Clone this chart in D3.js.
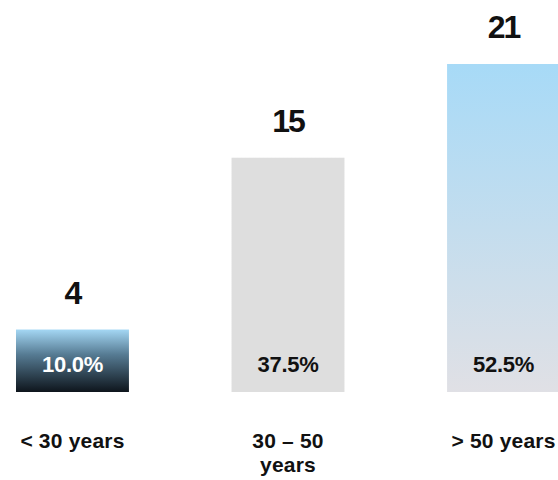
<!DOCTYPE html>
<html>
<head>
<meta charset="utf-8">
<script src="https://cdn.jsdelivr.net/npm/d3@7"></script>
<style>
  html, body { margin: 0; padding: 0; background: #fff; }
  svg { display: block; }
  text { font-family: "Liberation Sans", Arial, Helvetica, sans-serif; font-weight: bold; fill: #111; }
</style>
</head>
<body>
<svg id="chart" width="558" height="480"></svg>
<script>
// Employees by age group: head count and share of total
const categories = ["< 30 years", "30 – 50 years", "> 50 years"];
const counts = [4, 15, 21];
const shares = ["10.0%", "37.5%", "52.5%"];

const width = 558, height = 480;
const baseline = 392;

const svg = d3.select("#chart");

const x = d3.scaleBand()
  .domain(categories)
  .range([16, 560])
  .paddingInner(0.476)
  .paddingOuter(0);

const y = d3.scaleLinear()
  .domain([0, d3.max(counts)])
  .range([baseline, 64]);

// Fills: dark blue ramp for the youngest group, flat grey, light blue ramp
const defs = svg.append("defs");
const ramps = [
  { id: "fill-0", stops: [["0%", "#a4d7f4"], ["40%", "#567b93"], ["100%", "#0e151c"]] },
  { id: "fill-1", stops: [["0%", "#dedede"], ["100%", "#dedede"]] },
  { id: "fill-2", stops: [["0%", "#a7daf7"], ["100%", "#e0e0e5"]] }
];
ramps.forEach(r => {
  const g = defs.append("linearGradient")
    .attr("id", r.id)
    .attr("x1", 0).attr("y1", 0).attr("x2", 0).attr("y2", 1);
  r.stops.forEach(([o, c]) => g.append("stop").attr("offset", o).attr("stop-color", c));
});

const data = categories.map((c, i) => ({ cat: c, count: counts[i], share: shares[i], i }));

// Bars
svg.selectAll("rect.bar")
  .data(data)
  .join("rect")
  .attr("class", "bar")
  .attr("x", d => x(d.cat))
  .attr("y", d => y(d.count))
  .attr("width", x.bandwidth())
  .attr("height", d => baseline - y(d.count))
  .attr("fill", d => `url(#fill-${d.i})`);

// Head count above each bar
svg.selectAll("text.count")
  .data(data)
  .join("text")
  .attr("class", "count")
  .attr("x", d => x(d.cat) + x.bandwidth() / 2)
  .attr("y", d => y(d.count) - 26)
  .attr("text-anchor", "middle")
  .style("font-size", "32px")
  .style("letter-spacing", "-2px")
  .text(d => d.count);

// Share inside each bar
svg.selectAll("text.share")
  .data(data)
  .join("text")
  .attr("class", "share")
  .attr("x", d => x(d.cat) + x.bandwidth() / 2)
  .attr("y", 372)
  .attr("text-anchor", "middle")
  .style("font-size", "22px")
  .style("letter-spacing", "-0.3px")
  .style("fill", d => d.i === 0 ? "#ffffff" : "#111111")
  .text(d => d.share);

// Category labels, wrapped to fit under the bar
function wrap(sel, maxWidth, lineHeight) {
  sel.each(function () {
    const t = d3.select(this);
    const words = t.text().split(/\s+/);
    const x0 = t.attr("x");
    t.text(null);
    let line = [];
    let tspan = t.append("tspan").attr("x", x0).attr("dy", 0);
    words.forEach(w => {
      line.push(w);
      tspan.text(line.join(" "));
      if (tspan.node().getComputedTextLength() > maxWidth && line.length > 1) {
        line.pop();
        tspan.text(line.join(" "));
        line = [w];
        tspan = t.append("tspan").attr("x", x0).attr("dy", lineHeight).text(w);
      }
    });
  });
}

svg.selectAll("text.cat")
  .data(data)
  .join("text")
  .attr("class", "cat")
  .attr("x", d => x(d.cat) + x.bandwidth() / 2)
  .attr("y", 448)
  .attr("text-anchor", "middle")
  .style("font-size", "21px")
  .style("letter-spacing", "0.2px")
  .text(d => d.cat)
  .call(wrap, 120, 24);
</script>
</body>
</html>
